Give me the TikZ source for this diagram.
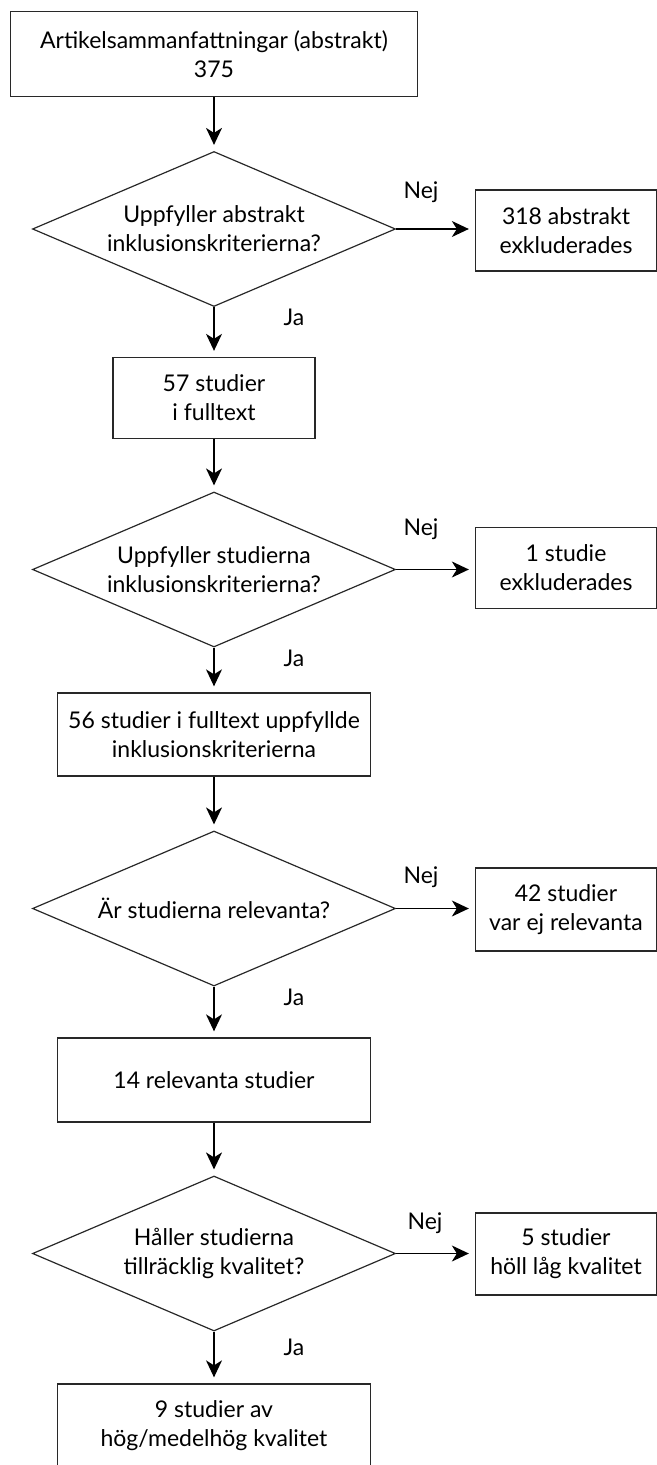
\documentclass[tikz,border=0pt]{standalone}
\usepackage{fontspec}
\setmainfont{Lato}
\usepackage{tikz}
\usetikzlibrary{arrows.meta,positioning,shapes.geometric}
\definecolor{flowline}{RGB}{40,40,40}

\tikzset{
  flowbox/.style={draw=flowline, line width=0.65pt, rectangle, align=center,
    inner sep=2pt, font=\fontsize{11.5}{14.5}\selectfont},
  decision/.style={draw=flowline, line width=0.6pt, diamond, aspect=2.34,
    inner sep=0pt, minimum width=181.5pt, minimum height=77.5pt, align=center,
    font=\fontsize{11.5}{14.5}\selectfont},
  answer/.style={font=\fontsize{11.5}{14.5}\selectfont, inner sep=0pt},
  flow/.style={-{Stealth[length=8.5pt,width=8pt,inset=2.5pt]}, line width=0.65pt, black, shorten >=3pt}
}

\begin{document}
\begin{tikzpicture}[x=0.5pt, y=-0.5pt]
  \useasboundingbox (0,0) rectangle (657,1465);

  % main column
  \node[flowbox, minimum width=203.5pt, minimum height=42.5pt] (art) at (214,54)
    {Artikelsammanfattningar (abstrakt)\\375};
  \node[decision] (q1) at (214,229) {Uppfyller abstrakt\\inklusionskriterierna?};
  \node[flowbox, minimum width=101pt, minimum height=40.5pt] (s57) at (214,398)
    {57 studier\\i fulltext};
  \node[decision] (q2) at (214,569.5) {Uppfyller studierna\\inklusionskriterierna?};
  \node[flowbox, minimum width=156.5pt, minimum height=41.5pt] (s56) at (214,734.5)
    {56 studier i fulltext uppfyllde\\inklusionskriterierna};
  \node[decision] (q3) at (214,908.5) {Är studierna relevanta?};
  \node[flowbox, minimum width=156.5pt, minimum height=42pt] (s14) at (214,1080)
    {14 relevanta studier};
  \node[decision] (q4) at (214,1253.5) {Håller studierna\\tillräcklig kvalitet?};
  \node[flowbox, minimum width=156.5pt, minimum height=42pt] (s9) at (214,1426)
    {9 studier av\\hög/medelhög kvalitet};

  % excluded, right column
  \node[flowbox, minimum width=90.5pt, minimum height=40.5pt] (ex1) at (566,230.5)
    {318 abstrakt\\exkluderades};
  \node[flowbox, minimum width=90.5pt, minimum height=40.5pt] (ex2) at (566,568)
    {1 studie\\exkluderades};
  \node[flowbox, minimum width=90.5pt, minimum height=41.5pt] (ex3) at (566,909.5)
    {42 studier\\var ej relevanta};
  \node[flowbox, minimum width=90.5pt, minimum height=41pt] (ex4) at (566,1254)
    {5 studier\\höll låg kvalitet};

  % Nej / Ja
  \node[answer] (nej1) at (421,192) {Nej};
  \node[answer] (nej2) at (421,529) {Nej};
  \node[answer] (nej3) at (421,877) {Nej};
  \node[answer] (nej4) at (425,1223) {Nej};
  \node[answer] (ja1) at (294,317) {Ja};
  \node[answer] (ja2) at (294,658) {Ja};
  \node[answer] (ja3) at (294,997) {Ja};
  \node[answer] (ja4) at (294,1347) {Ja};

  \draw[flow] (art) -- (q1);
  \draw[flow] (q1) -- (s57);
  \draw[flow] (s57) -- (q2);
  \draw[flow] (q2) -- (s56);
  \draw[flow] (s56) -- (q3);
  \draw[flow] (q3) -- (s14);
  \draw[flow] (s14) -- (q4);
  \draw[flow] (q4) -- (s9);
  \draw[flow] (q1.east) -- (ex1.west |- q1.east);
  \draw[flow] (q2.east) -- (ex2.west |- q2.east);
  \draw[flow] (q3.east) -- (ex3.west |- q3.east);
  \draw[flow] (q4.east) -- (ex4.west |- q4.east);
\end{tikzpicture}
\end{document}
